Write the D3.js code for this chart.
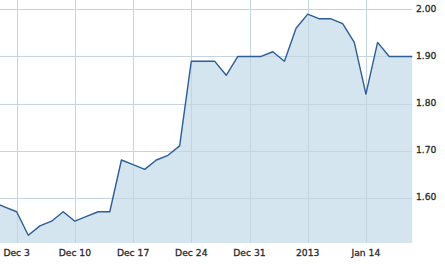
<!DOCTYPE html>
<html><head><meta charset="utf-8">
<script src="https://cdn.jsdelivr.net/npm/d3@7"></script>
<style>
html,body{margin:0;padding:0;background:#fff;}
svg{display:block;}
text{font-family:"DejaVu Sans",Verdana,sans-serif;font-size:9.2px;fill:#2b2b2b;stroke:#2b2b2b;stroke-width:0.3px;}
</style></head>
<body>
<svg id="chart" width="445" height="264"></svg>
<script>
// Weekday dates (trading-day axis) and closing values
const dates = [
  "2012-11-29","2012-11-30",
  "2012-12-03","2012-12-04","2012-12-05","2012-12-06","2012-12-07",
  "2012-12-10","2012-12-11","2012-12-12","2012-12-13","2012-12-14",
  "2012-12-17","2012-12-18","2012-12-19","2012-12-20","2012-12-21",
  "2012-12-24","2012-12-25","2012-12-26","2012-12-27","2012-12-28",
  "2012-12-31","2013-01-01","2013-01-02","2013-01-03","2013-01-04",
  "2013-01-07","2013-01-08","2013-01-09","2013-01-10","2013-01-11",
  "2013-01-14","2013-01-15","2013-01-16","2013-01-17","2013-01-18"
];
const values = [
  1.59, 1.58,
  1.57, 1.52, 1.54, 1.55, 1.57,
  1.55, 1.56, 1.57, 1.57, 1.68,
  1.67, 1.66, 1.68, 1.69, 1.71,
  1.89, 1.89, 1.89, 1.86, 1.90,
  1.90, 1.90, 1.91, 1.89, 1.96,
  1.99, 1.98, 1.98, 1.97, 1.93,
  1.82, 1.93, 1.90, 1.90, 1.90
];
const xTickDates = ["2012-12-03","2012-12-10","2012-12-17","2012-12-24","2012-12-31","2013-01-07","2013-01-14"];
const xTickLabels = ["Dec 3","Dec 10","Dec 17","Dec 24","Dec 31","2013","Jan 14"];
const yTicks = [1.60, 1.70, 1.80, 1.90, 2.00];

const W = 412.5, H = 243.3;
const data = dates.map((d, i) => ({i, v: values[i]}));

const x = d3.scaleLinear().domain([0.57, 36]).range([0, W]);
const y = d3.scaleLinear().domain([1.503, 2.02]).range([H, 0]);

const svg = d3.select("#chart");
svg.append("defs").append("clipPath").attr("id","clip")
  .append("rect").attr("x",0).attr("y",0).attr("width",W).attr("height",H);

const g = svg.append("g");
const plot = g.append("g").attr("clip-path","url(#clip)");

// area
plot.append("path").datum(data)
  .attr("d", d3.area().x(d => x(d.i)).y0(H).y1(d => y(d.v)))
  .attr("fill", "#d5e5f0");

// grid
const crisp = v => Math.round(v) + 0.5;
plot.selectAll("line.h").data(yTicks).join("line")
  .attr("x1", 0).attr("x2", W)
  .attr("y1", d => crisp(y(d))).attr("y2", d => crisp(y(d)))
  .attr("stroke", "#c4d5e2").attr("stroke-width", 1);
const tickIdx = xTickDates.map(d => dates.indexOf(d));
plot.selectAll("line.v").data(tickIdx).join("line")
  .attr("y1", 0).attr("y2", H)
  .attr("x1", d => crisp(x(d))).attr("x2", d => crisp(x(d)))
  .attr("stroke", "#c4d5e2").attr("stroke-width", 1);

// line
plot.append("path").datum(data)
  .attr("d", d3.line().x(d => x(d.i)).y(d => y(d.v)))
  .attr("fill", "none").attr("stroke", "#2b5d97").attr("stroke-width", 1.4)
  .attr("stroke-linejoin","round");

// y labels
g.selectAll("text.y").data(yTicks).join("text")
  .attr("x", 416).attr("y", d => y(d) - 1).attr("dy", "0.35em")
  .text(d => d3.format(".2f")(d));

// x labels
g.selectAll("text.x").data(tickIdx).join("text")
  .attr("x", d => x(d)).attr("y", 255.5).attr("text-anchor","middle")
  .text((d, i) => xTickLabels[i]);
</script>
</body></html>
